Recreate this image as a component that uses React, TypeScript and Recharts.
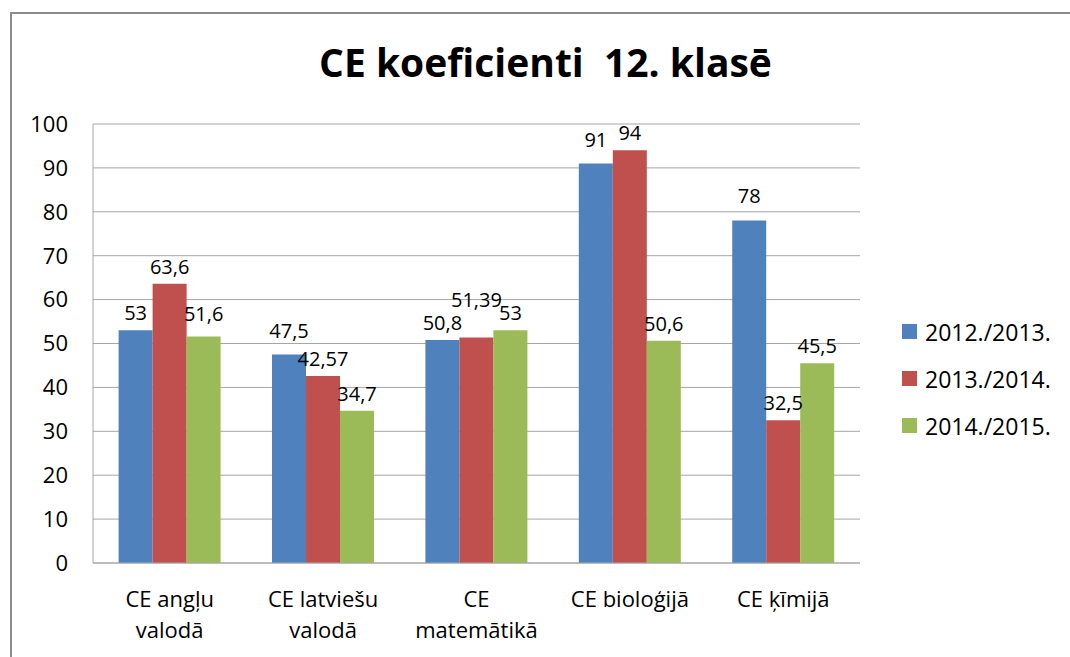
import { Bar, BarChart, CartesianGrid, LabelList, XAxis, YAxis } from 'recharts'

const categories = [
  'CE angļu\nvalodā',
  'CE latviešu\nvalodā',
  'CE\nmatemātikā',
  'CE bioloģijā',
  'CE ķīmijā',
]
const y2013 = [53, 47.5, 50.8, 91, 78]
const y2014 = [63.6, 42.57, 51.39, 94, 32.5]
const y2015 = [51.6, 34.7, 53, 50.6, 45.5]
const yTicks = [0, 10, 20, 30, 40, 50, 60, 70, 80, 90, 100]

const series = [
  { key: 's1', name: '2012./2013.', color: '#4F81BD', values: y2013 },
  { key: 's2', name: '2013./2014.', color: '#C0504D', values: y2014 },
  { key: 's3', name: '2014./2015.', color: '#9BBB59', values: y2015 },
]

const data = categories.map((c, i) => {
  const row: Record<string, string | number> = { cat: c }
  series.forEach((s) => (row[s.key] = s.values[i]))
  return row
})

const FONT = '"Open Sans", "Noto Sans", sans-serif'

// Excel moved a few labels up so they don't collide
const labelLift: Record<string, number> = { 's2-2': 20, 's1-3': 7, 's1-4': 8, 's1-1': 6, 's3-0': 5 }

const fmt = (v: number) => String(v).replace('.', ',')

function makeLabel(seriesKey: string) {
  return (props: any) => {
    const { x, y, width, value, index } = props
    const lift = labelLift[`${seriesKey}-${index}`] ?? 0
    return (
      <text
        x={Number(x) + Number(width) / 2}
        y={Number(y) - 10 - lift}
        textAnchor="middle"
        fontSize={20}
        fontFamily={FONT}
        fill="#000"
      >
        {fmt(value)}
      </text>
    )
  }
}

function CatTick({ x, y, payload }: any) {
  const lines = String(payload.value).split('\n')
  return (
    <text x={x} y={y} textAnchor="middle" fontSize={22} fontFamily={FONT} fill="#000">
      {lines.map((l, i) => (
        <tspan key={i} x={x} y={y + 42 + i * 31}>
          {l}
        </tspan>
      ))}
    </text>
  )
}

export default function App() {
  return (
    <div style={{ position: 'fixed', left: 0, top: 0, width: 1070, height: 657, background: '#fff', overflow: 'hidden' }}>
      <div
        style={{
          position: 'absolute',
          left: 10,
          top: 12,
          width: 1080,
          height: 680,
          borderTop: '2px solid #8c8c8c',
          borderLeft: '2px solid #8c8c8c',
        }}
      />
      <div
        style={{
          position: 'absolute',
          left: 0,
          width: 1091,
          top: 35,
          textAlign: 'center',
          fontFamily: FONT,
          fontWeight: 700,
          fontSize: 39,
          lineHeight: 'normal',
          whiteSpace: 'pre',
          color: '#000',
        }}
      >
        CE koeficienti  12. klasē
      </div>
      <BarChart
        width={1070}
        height={657}
        data={data}
        margin={{ top: 124, right: 210, bottom: 14, left: 33 }}
        barCategoryGap="16.7%"
        barGap={0}
        style={{ position: 'absolute', left: 0, top: 0 }}
      >
        <CartesianGrid vertical={false} stroke="#a6a6a6" />
        <XAxis
          dataKey="cat"
          height={80}
          tickLine={false}
          tickSize={0}
          axisLine={{ stroke: '#a6a6a6' }}
          tick={<CatTick />}
          interval={0}
        />
        <YAxis
          width={60}
          domain={[0, 100]}
          ticks={yTicks}
          tickLine={false}
          tickSize={0}
          tickMargin={25}
          axisLine={{ stroke: '#a6a6a6' }}
          tick={{ fontSize: 22, fontFamily: FONT, fill: '#000' }}
        />
        {series.map((s) => (
          <Bar key={s.key} dataKey={s.key} name={s.name} fill={s.color} isAnimationActive={false}>
            <LabelList dataKey={s.key} content={makeLabel(s.key)} />
          </Bar>
        ))}
      </BarChart>
      <div style={{ position: 'absolute', left: 902, top: 308, fontFamily: FONT, fontSize: 23, color: '#000' }}>
        {series.map((s) => (
          <div key={s.key} style={{ display: 'flex', alignItems: 'center', height: 47 }}>
            <span style={{ width: 15, height: 15, background: s.color, marginRight: 8 }} />
            <span>{s.name}</span>
          </div>
        ))}
      </div>
    </div>
  )
}
